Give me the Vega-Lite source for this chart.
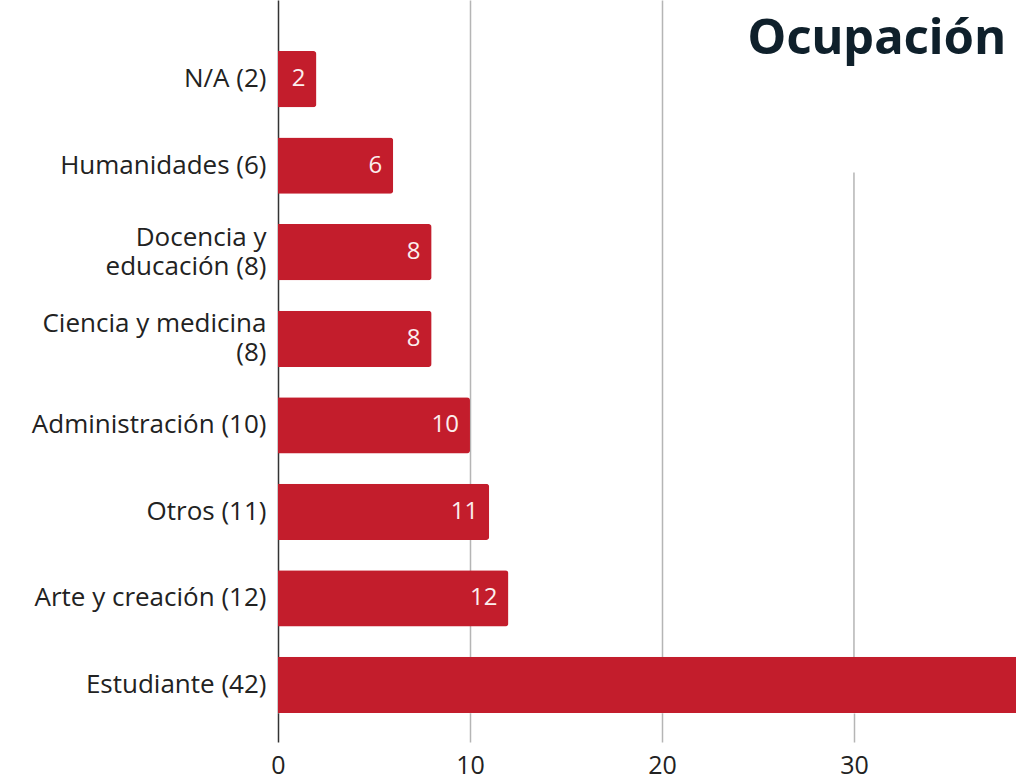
{
  "$schema": "https://vega.github.io/schema/vega-lite/v6.json",
  "autosize": "none",
  "width": 738,
  "height": 713,
  "padding": {"left": 278, "top": 0, "right": 0, "bottom": 66},
  "background": "white",
  "title": {
    "text": "Ocupación",
    "anchor": "end",
    "frame": "group",
    "orient": "top",
    "font": "Noto Sans",
    "fontSize": 49,
    "fontWeight": "bold",
    "color": "#0f202b",
    "dy": 68,
    "dx": -10
  },
  "config": {
    "view": {"stroke": null},
    "font": "Open Sans"
  },
  "datasets": {
    "ocupacion": [
      {"categoria": "N/A (2)", "valor": 2},
      {"categoria": "Humanidades (6)", "valor": 6},
      {"categoria": "Docencia y|educación (8)", "valor": 8},
      {"categoria": "Ciencia y medicina|(8)", "valor": 8},
      {"categoria": "Administración (10)", "valor": 10},
      {"categoria": "Otros (11)", "valor": 11},
      {"categoria": "Arte y creación (12)", "valor": 12},
      {"categoria": "Estudiante (42)", "valor": 42}
    ],
    "grid30": [
      {"categoria": "Humanidades (6)", "valor": 30}
    ]
  },
  "layer": [
    {
      "data": {"name": "grid30"},
      "mark": {"type": "rule", "color": "#b5b5b5", "strokeWidth": 1.5},
      "encoding": {
        "x": {"field": "valor", "type": "quantitative"},
        "y": {"field": "categoria", "type": "nominal", "sort": null, "bandPosition": 0.62},
        "y2": {"value": "height"}
      }
    },
    {
      "data": {"name": "ocupacion"},
      "mark": {"type": "bar", "color": "#c31d2c", "cornerRadiusEnd": 3},
      "encoding": {
        "y": {
          "field": "categoria",
          "type": "nominal",
          "sort": null,
          "scale": {
            "domain": ["N/A (2)", "Humanidades (6)", "Docencia y|educación (8)", "Ciencia y medicina|(8)", "Administración (10)", "Otros (11)", "Arte y creación (12)", "Estudiante (42)"],
            "paddingInner": 0.35, "paddingOuter": 0.295, "align": 1
          },
          "axis": {
            "title": null,
            "ticks": false,
            "domainColor": "#333333",
            "domainWidth": 1.5,
            "labelFont": "Open Sans",
            "labelFontSize": 26,
            "labelColor": "#222222",
            "labelPadding": 12,
            "labelLineHeight": 29,
            "labelLimit": 300,
            "labelOffset": {"condition": {"test": "indexof(datum.value, '|') >= 0", "value": -14.5}, "value": 0},
            "labelExpr": "split(datum.label, '|')"
          }
        },
        "x": {
          "field": "valor",
          "type": "quantitative",
          "scale": {"domain": [0, 38.44], "nice": false},
          "axis": {
            "title": null,
            "values": [0, 10, 20, 30],
            "domain": false,
            "grid": true,
            "gridColor": "#b5b5b5",
            "gridWidth": 1.5,
            "gridOpacity": {"condition": {"test": "datum.value === 0 || datum.value === 30", "value": 0}, "value": 1},
            "tickSize": 29,
            "tickWidth": 1.5,
            "tickColor": {"condition": {"test": "datum.value === 0", "value": "#333333"}, "value": "#b5b5b5"},
            "labelFont": "Open Sans",
            "labelFontSize": 25,
            "labelColor": "#222222",
            "labelPadding": 11,
            "labelFlush": false
          }
        }
      }
    },
    {
      "data": {"name": "ocupacion"},
      "mark": {"type": "text", "align": "right", "baseline": "middle", "dx": -11, "fontSize": 24, "color": "#fbeeee"},
      "encoding": {
        "y": {"field": "categoria", "type": "nominal", "sort": null},
        "x": {"field": "valor", "type": "quantitative"},
        "text": {"field": "valor", "type": "quantitative"}
      }
    }
  ]
}
